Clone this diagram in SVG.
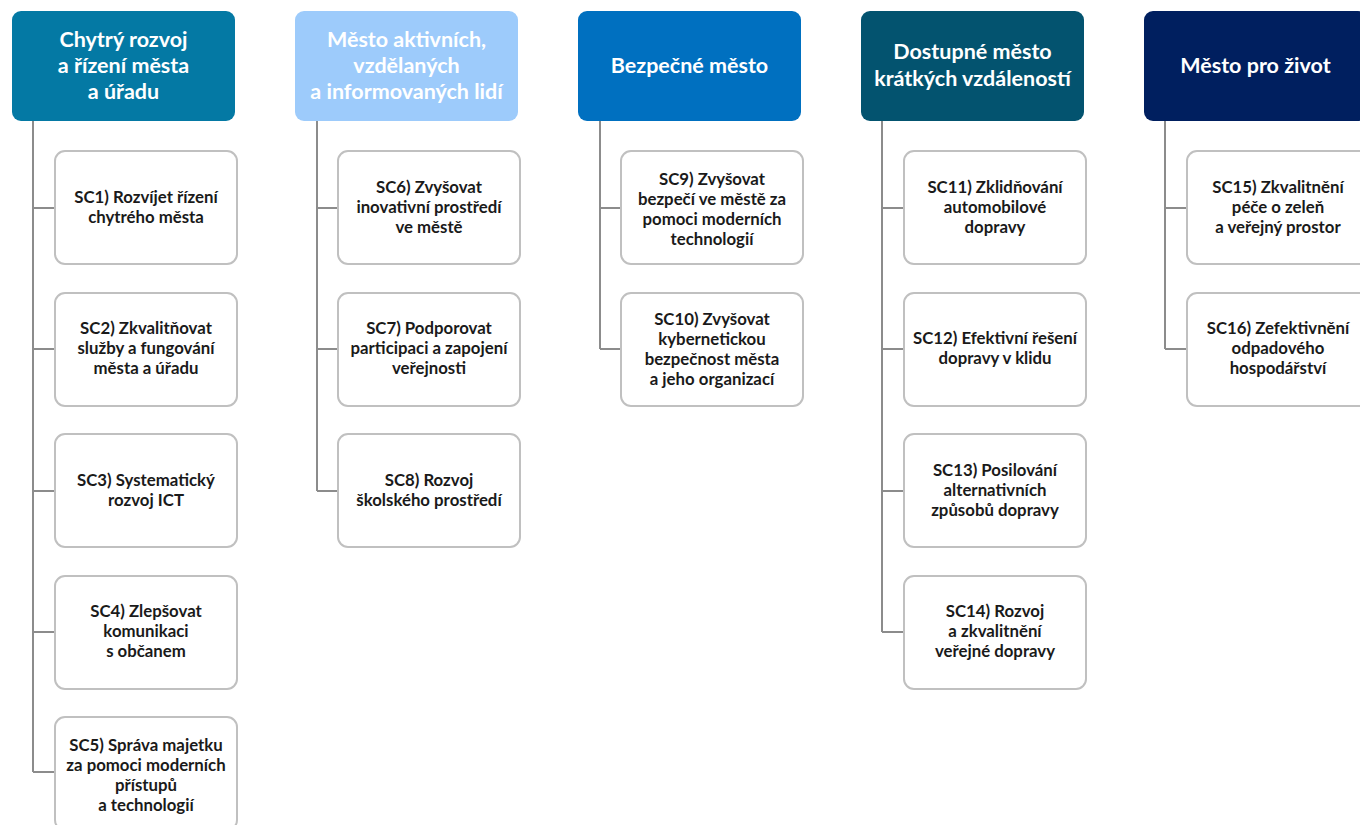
<svg xmlns="http://www.w3.org/2000/svg" width="1360" height="825" viewBox="0 0 1360 825">
<style>
.hd{stroke:none}
.ht{font-family:Lato,"Open Sans","Liberation Sans",sans-serif;font-weight:bold;font-size:21.5px;fill:#fff;text-anchor:middle}
.bx{fill:#fff;stroke:#c0c0c0;stroke-width:2}
.bt{font-family:Lato,"Open Sans","Liberation Sans",sans-serif;font-weight:bold;font-size:16.8px;fill:#1a1a1a;text-anchor:middle}
.cn{fill:none;stroke:#8c8c8c;stroke-width:2}
</style>
<rect width="1360" height="825" fill="#fff"/>
<g id="connectors">
<path class="cn" d="M33,121V772M33,208H55M33,349H55M33,491H55M33,632H55M33,772H55"/>
<path class="cn" d="M317,121V491M317,208H338M317,349H338M317,491H338"/>
<path class="cn" d="M600,121V349M600,208H621M600,349H621"/>
<path class="cn" d="M882,121V632M882,208H904M882,349H904M882,491H904M882,632H904"/>
<path class="cn" d="M1165,121V349M1165,208H1187M1165,349H1187"/>
</g>
<g id="h1"><rect class="hd" x="12" y="11" width="223" height="110" rx="9" fill="#0479a4"/>
<text class="ht" x="123.5"><tspan x="123.5" y="47">Chytrý rozvoj</tspan><tspan x="123.5" y="73">a řízení města</tspan><tspan x="123.5" y="99">a úřadu</tspan></text></g>
<g id="h2"><rect class="hd" x="295" y="11" width="223" height="110" rx="9" fill="#9dcbfb"/>
<text class="ht" x="406.5"><tspan x="406.5" y="47">Město aktivních,</tspan><tspan x="406.5" y="73">vzdělaných</tspan><tspan x="406.5" y="99">a informovaných lidí</tspan></text></g>
<g id="h3"><rect class="hd" x="578" y="11" width="223" height="110" rx="9" fill="#0070c0"/>
<text class="ht"><tspan x="689.5" y="73">Bezpečné město</tspan></text></g>
<g id="h4"><rect class="hd" x="861" y="11" width="223" height="110" rx="9" fill="#03536f"/>
<text class="ht"><tspan x="972.5" y="59">Dostupné město</tspan><tspan x="972.5" y="86">krátkých vzdáleností</tspan></text></g>
<g id="h5"><rect class="hd" x="1144" y="11" width="223" height="110" rx="9" fill="#001f5f"/>
<text class="ht"><tspan x="1255.5" y="73">Město pro život</tspan></text></g>

<g id="sc1"><rect class="bx" x="55" y="151" width="182" height="113" rx="10"/>
<text class="bt"><tspan x="146" y="203">SC1) Rozvíjet řízení</tspan><tspan x="146" y="223">chytrého města</tspan></text></g>
<g id="sc2"><rect class="bx" x="55" y="293" width="182" height="113" rx="10"/>
<text class="bt"><tspan x="146" y="334">SC2) Zkvalitňovat</tspan><tspan x="146" y="354">služby a fungování</tspan><tspan x="146" y="374">města a úřadu</tspan></text></g>
<g id="sc3"><rect class="bx" x="55" y="434" width="182" height="113" rx="10"/>
<text class="bt"><tspan x="146" y="486">SC3) Systematický</tspan><tspan x="146" y="506">rozvoj ICT</tspan></text></g>
<g id="sc4"><rect class="bx" x="55" y="576" width="182" height="113" rx="10"/>
<text class="bt"><tspan x="146" y="617">SC4) Zlepšovat</tspan><tspan x="146" y="637">komunikaci</tspan><tspan x="146" y="657">s občanem</tspan></text></g>
<g id="sc5"><rect class="bx" x="55" y="717" width="182" height="113" rx="10"/>
<text class="bt"><tspan x="146" y="751">SC5) Správa majetku</tspan><tspan x="146" y="771">za pomoci moderních</tspan><tspan x="146" y="791">přístupů</tspan><tspan x="146" y="811">a technologií</tspan></text></g>

<g id="sc6"><rect class="bx" x="338" y="151" width="182" height="113" rx="10"/>
<text class="bt"><tspan x="429" y="193">SC6) Zvyšovat</tspan><tspan x="429" y="213">inovativní prostředí</tspan><tspan x="429" y="233">ve městě</tspan></text></g>
<g id="sc7"><rect class="bx" x="338" y="293" width="182" height="113" rx="10"/>
<text class="bt"><tspan x="429" y="334">SC7) Podporovat</tspan><tspan x="429" y="354">participaci a zapojení</tspan><tspan x="429" y="374">veřejnosti</tspan></text></g>
<g id="sc8"><rect class="bx" x="338" y="434" width="182" height="113" rx="10"/>
<text class="bt"><tspan x="429" y="486">SC8) Rozvoj</tspan><tspan x="429" y="506">školského prostředí</tspan></text></g>

<g id="sc9"><rect class="bx" x="621" y="151" width="182" height="113" rx="10"/>
<text class="bt"><tspan x="712" y="185">SC9) Zvyšovat</tspan><tspan x="712" y="205">bezpečí ve městě za</tspan><tspan x="712" y="225">pomoci moderních</tspan><tspan x="712" y="245">technologií</tspan></text></g>
<g id="sc10"><rect class="bx" x="621" y="293" width="182" height="113" rx="10"/>
<text class="bt"><tspan x="712" y="325">SC10) Zvyšovat</tspan><tspan x="712" y="345">kybernetickou</tspan><tspan x="712" y="365">bezpečnost města</tspan><tspan x="712" y="385">a jeho organizací</tspan></text></g>

<g id="sc11"><rect class="bx" x="904" y="151" width="182" height="113" rx="10"/>
<text class="bt"><tspan x="995" y="193">SC11) Zklidňování</tspan><tspan x="995" y="213">automobilové</tspan><tspan x="995" y="233">dopravy</tspan></text></g>
<g id="sc12"><rect class="bx" x="904" y="293" width="182" height="113" rx="10"/>
<text class="bt"><tspan x="995" y="344">SC12) Efektivní řešení</tspan><tspan x="995" y="364">dopravy v klidu</tspan></text></g>
<g id="sc13"><rect class="bx" x="904" y="434" width="182" height="113" rx="10"/>
<text class="bt"><tspan x="995" y="476">SC13) Posilování</tspan><tspan x="995" y="496">alternativních</tspan><tspan x="995" y="516">způsobů dopravy</tspan></text></g>
<g id="sc14"><rect class="bx" x="904" y="576" width="182" height="113" rx="10"/>
<text class="bt"><tspan x="995" y="617">SC14) Rozvoj</tspan><tspan x="995" y="637">a zkvalitnění</tspan><tspan x="995" y="657">veřejné dopravy</tspan></text></g>

<g id="sc15"><rect class="bx" x="1187" y="151" width="182" height="113" rx="10"/>
<text class="bt"><tspan x="1278" y="193">SC15) Zkvalitnění</tspan><tspan x="1278" y="213">péče o zeleň</tspan><tspan x="1278" y="233">a veřejný prostor</tspan></text></g>
<g id="sc16"><rect class="bx" x="1187" y="293" width="182" height="113" rx="10"/>
<text class="bt"><tspan x="1278" y="334">SC16) Zefektivnění</tspan><tspan x="1278" y="354">odpadového</tspan><tspan x="1278" y="374">hospodářství</tspan></text></g>
</svg>
